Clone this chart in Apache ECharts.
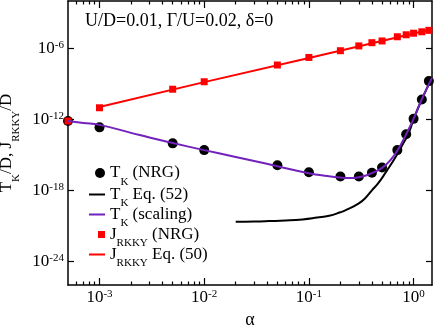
<!DOCTYPE html>
<html><head><meta charset="utf-8">
<script src="https://cdn.jsdelivr.net/npm/echarts@6/dist/echarts.min.js"></script>
<style>html,body{margin:0;padding:0;background:#fff}#c{width:436px;height:327px}</style>
</head><body><div id="c"></div>
<script>
// ---- data ----
const alphaNRG = [5e-4, 1e-3, 5e-3, 1e-2, 5e-2, 0.1, 0.2, 0.3, 0.4, 0.5, 0.7, 0.85, 1.0, 1.2, 1.4];
const tkNRG = [7.2e-13, 2.1e-13, 9.3e-15, 2.5e-15, 1.3e-16, 3.4e-17, 1.5e-17, 1.5e-17, 3.1e-17, 8.5e-17, 2.5e-15, 5.4e-14, 1.1e-12, 4.7e-11, 1.7e-9];
const jNRG = [7.2e-13, 9.5e-12, 3.5e-10, 1.5e-9, 3.9e-8, 1.7e-7, 6.3e-7, 1.6e-6, 3.0e-6, 4.2e-6, 9.5e-6, 1.4e-5, 1.9e-5, 2.5e-5, 3.3e-5];
const alphaJLine = [9.3e-4, 1e-2, 0.1, 1.5];
const jLine = [9.5e-12, 1.4e-9, 1.5e-7, 4.1e-5];
const alphaScal = [5e-4, 7e-4, 1e-3, 2e-3, 3e-3, 5e-3, 1e-2, 2e-2, 3e-2, 5e-2, 0.1, 0.15, 0.2, 0.25, 0.3, 0.35, 0.4, 0.5, 0.6, 0.7, 0.85, 1.0, 1.2, 1.5];
const tkScal = [7.2e-13, 5.0e-13, 3.4e-13, 7.2e-14, 2.9e-14, 1.0e-14, 2.5e-15, 6.6e-16, 3.0e-16, 1.1e-16, 2.8e-17, 1.6e-17, 1.2e-17, 1.1e-17, 1.3e-17, 1.8e-17, 2.8e-17, 7.9e-17, 3.5e-16, 2.2e-15, 5.6e-14, 1.1e-12, 5.0e-11, 3.2e-9];
const alphaEq = [0.02, 0.03, 0.042, 0.06, 0.087, 0.12, 0.156, 0.2, 0.225, 0.3, 0.35, 0.4, 0.46, 0.55, 0.676, 0.8, 0.9, 1.0, 1.2, 1.5];
const tkEq = [2.2e-21, 2.3e-21, 2.5e-21, 2.8e-21, 3.5e-21, 5.0e-21, 7.1e-21, 1.4e-20, 2.1e-20, 7.9e-20, 2.5e-19, 1.0e-18, 4.0e-18, 4.0e-17, 6.9e-16, 1.0e-14, 6.9e-14, 1.0e-12, 5.0e-11, 3.2e-9];
const xMajorTicks = [1e-3, 1e-2, 1e-1, 1];
const xMinorTicks = [6e-4, 7e-4, 8e-4, 9e-4, 2e-3, 3e-3, 4e-3, 5e-3, 6e-3, 7e-3, 8e-3, 9e-3, 2e-2, 3e-2, 4e-2, 5e-2, 6e-2, 7e-2, 8e-2, 9e-2, 0.2, 0.3, 0.4, 0.5, 0.6, 0.7, 0.8, 0.9];
const yMajorTicks = [1e-24, 1e-18, 1e-12, 1e-6];
const annotation = 'U/D=0.01, Γ/U=0.02, δ=0';
const legendNames = ['T_K (NRG)', 'T_K Eq. (52)', 'T_K (scaling)', 'J_RKKY (NRG)', 'J_RKKY Eq. (50)'];
const legendRich = {
  'T_K (NRG)': '{n|T}{s|K}{n| (NRG)}',
  'T_K Eq. (52)': '{n|T}{s|K}{n| Eq. (52)}',
  'T_K (scaling)': '{n|T}{s|K}{n| (scaling)}',
  'J_RKKY (NRG)': '{n|J}{s|RKKY}{n| (NRG)}',
  'J_RKKY Eq. (50)': '{n|J}{s|RKKY}{n| Eq. (50)}'
};

// ---- chart ----
const FONT = '"Liberation Serif", "Times New Roman", serif';
const PURPLE = '#7221BC';
function pairs(xs, ys) { return xs.map((x, i) => [x, ys[i]]); }
function expLabel(v) { const e = Math.round(Math.log10(v)); return '{b|10}{e|' + e + '}'; }
const supRich = {
  b: { fontFamily: FONT, fontSize: 17, color: '#000', lineHeight: 17, verticalAlign: 'bottom', padding: [8, 0, 0, 0] },
  e: { fontFamily: FONT, fontSize: 11, color: '#000', lineHeight: 11, verticalAlign: 'top' }
};
const subRich = {
  n: { fontFamily: FONT, fontSize: 17, color: '#000', lineHeight: 17, verticalAlign: 'top' },
  s: { fontFamily: FONT, fontSize: 11, color: '#000', lineHeight: 11, verticalAlign: 'top', padding: [12, 0, 0, 0] }
};
const axLine = { show: true, lineStyle: { color: '#000', width: 1.5 } };
const XMIN = 5e-4, XMAX = 1.5, YMIN = 1e-26, YMAX = 1e-2;

function xAx(pos, ticks, len, showLine, label) {
  return {
    type: 'log', min: XMIN, max: XMAX, position: pos,
    axisLine: showLine ? axLine : { show: false },
    axisTick: { show: true, inside: true, length: len, customValues: ticks, lineStyle: { color: '#000', width: 1.2 } },
    axisLabel: label ? { show: true, customValues: ticks, formatter: expLabel, rich: supRich, margin: 4 } : { show: false },
    splitLine: { show: false }, minorTick: { show: false }
  };
}
const xAxes = [
  xAx('bottom', xMajorTicks, 7, true, true),
  xAx('bottom', xMinorTicks, 3.5, false, false),
  xAx('top', xMajorTicks, 7, true, false),
  xAx('top', xMinorTicks, 3.5, false, false)
];
Object.assign(xAxes[0], { name: 'α', nameLocation: 'middle', nameGap: 23, nameTextStyle: { fontFamily: FONT, fontSize: 18, color: '#000' } });

function yAx(pos, label) {
  return {
    type: 'log', min: YMIN, max: YMAX, position: pos,
    axisLine: axLine,
    axisTick: { show: true, inside: true, length: 6, customValues: yMajorTicks, lineStyle: { color: '#000', width: 1.2 } },
    axisLabel: label ? { show: true, customValues: yMajorTicks, formatter: expLabel, rich: supRich, margin: 4 } : { show: false },
    splitLine: { show: false }, minorTick: { show: false }
  };
}
const yAxes = [yAx('left', true), yAx('right', false)];
Object.assign(yAxes[0], { name: '{n|T}{s|K}{n|/D, J}{s|RKKY}{n|/D}', nameLocation: 'middle', nameGap: 43, nameRotate: 90, nameTextStyle: { rich: subRich } });

const rowCenters = [176, 197.5, 217.5, 237.5, 257.5];
const legendIcons = [
  { icon: 'circle', w: 10, h: 10 },
  { icon: 'rect', w: 16, h: 2 },
  { icon: 'rect', w: 16, h: 2 },
  { icon: 'rect', w: 7, h: 7 },
  { icon: 'rect', w: 16, h: 2 }
];
const legends = legendNames.map((nm, i) => {
  const ic = legendIcons[i];
  return {
    data: [{ name: nm, icon: ic.icon }],
    orient: 'vertical', left: 105 - ic.w, top: rowCenters[i] - 11.5, padding: 0,
    itemWidth: ic.w, itemHeight: ic.h, selectedMode: false,
    formatter: n => legendRich[n], textStyle: { rich: subRich }
  };
});

const chart = echarts.init(document.getElementById('c'), null, { renderer: 'canvas' });
chart.setOption({
  animation: false,
  backgroundColor: '#fff',
  grid: { left: 68, right: 4, top: 1, bottom: 42, containLabel: false, outerBoundsMode: 'none' },
  xAxis: xAxes,
  yAxis: yAxes,
  legend: legends,
  graphic: [{ type: 'text', left: 85, top: 12, style: { text: annotation, font: '18px "Liberation Serif"', fill: '#000' } }],
  series: [
    { name: legendNames[1], type: 'line', data: pairs(alphaEq, tkEq), smooth: true, symbol: 'none', lineStyle: { color: '#000', width: 2 }, itemStyle: { color: '#000' } },
    { name: legendNames[2], type: 'line', data: pairs(alphaScal, tkScal), smooth: true, symbol: 'none', lineStyle: { color: PURPLE, width: 2 }, itemStyle: { color: PURPLE } },
    { name: legendNames[4], type: 'line', data: pairs(alphaJLine, jLine), symbol: 'none', lineStyle: { color: '#ff0000', width: 2 }, itemStyle: { color: '#ff0000' } },
    { name: legendNames[0], type: 'scatter', data: pairs(alphaNRG, tkNRG), symbol: 'circle', symbolSize: 10, clip: false, itemStyle: { color: '#000', opacity: 1 } },
    { name: legendNames[3], type: 'scatter', data: pairs(alphaNRG, jNRG), symbol: 'rect', symbolSize: 7, clip: false, itemStyle: { color: '#ff0000', opacity: 1 } }
  ]
});
</script></body></html>
